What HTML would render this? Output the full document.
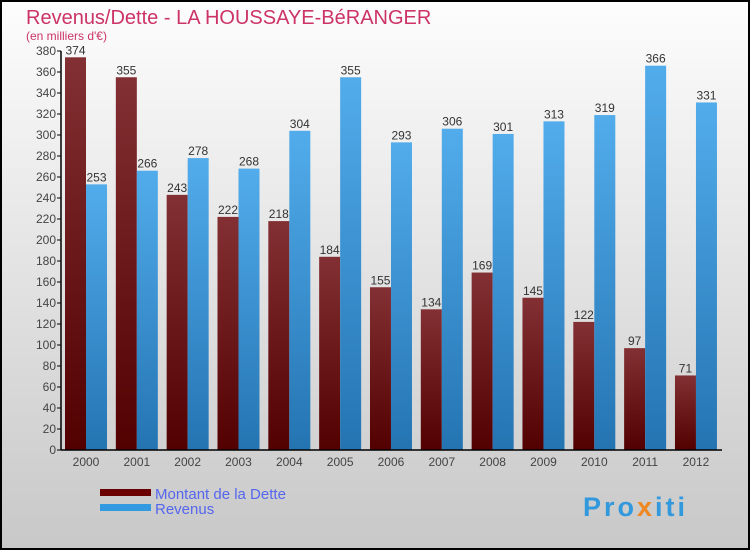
<!DOCTYPE html>
<html><head><meta charset="utf-8"><style>
body{margin:0;width:750px;height:550px;overflow:hidden;font-family:"Liberation Sans",sans-serif}
</style></head><body>
<svg id="c" width="750" height="550" xmlns="http://www.w3.org/2000/svg">
<defs>
<linearGradient id="bg" x1="0" y1="0" x2="0" y2="1"><stop offset="0" stop-color="#fdfdfd"/><stop offset="1" stop-color="#c8c8c8"/></linearGradient>
<linearGradient id="gd" x1="0" y1="0" x2="0" y2="1"><stop offset="0" stop-color="#833034"/><stop offset="1" stop-color="#520000"/></linearGradient>
<linearGradient id="gr" x1="0" y1="0" x2="0" y2="1"><stop offset="0" stop-color="#52aceb"/><stop offset="1" stop-color="#2474b2"/></linearGradient>
</defs>
<rect x="1" y="1" width="748" height="548" fill="url(#bg)" stroke="#000" stroke-width="2"/>
<text x="26" y="24" font-size="20" fill="#cc3366">Revenus/Dette - LA HOUSSAYE-BéRANGER</text>
<text x="26" y="40" font-size="12" fill="#cc3366">(en milliers d'€)</text>
<g id="plot"></g>
<rect x="100" y="489" width="51" height="7" fill="#6b0000"/>
<text x="155" y="499" font-size="15" fill="#5566ee">Montant de la Dette</text>
<rect x="100" y="504" width="51" height="7" fill="#3399e0"/>
<text x="155" y="514" font-size="15" fill="#5566ee">Revenus</text>
<text x="583" y="516" font-size="27" font-weight="bold" letter-spacing="3" fill="#3399dd">Pro<tspan fill="#ee8822">x</tspan>iti</text>
</svg>
<script>
const years=["2000","2001","2002","2003","2004","2005","2006","2007","2008","2009","2010","2011","2012"];
const dette=[374,355,243,222,218,184,155,134,169,145,122,97,71];
const revenus=[253,266,278,268,304,355,293,306,301,313,319,366,331];
const ticks=[0,20,40,60,80,100,120,140,160,180,200,220,240,260,280,300,320,340,360,380];
const NS="http://www.w3.org/2000/svg";
const g=document.getElementById('plot');
const y=v=>450-v*399/380;
const xc=i=>86+i*50.83;
function mk(t,a){const e=document.createElementNS(NS,t);for(const k in a)e.setAttribute(k,a[k]);g.appendChild(e);return e;}
ticks.forEach(t=>{
 const l=mk('line',{x1:57,x2:61,y1:y(t),y2:y(t),stroke:'#000'});
 
 
 const tx=mk('text',{x:56,y:y(t)+4,'font-size':12,'text-anchor':'end',fill:'#444'});tx.textContent=t;
 
 
});
years.forEach((yr,i)=>{
 const c=xc(i);
 const b1=mk('rect',{x:c-21,y:y(dette[i]),width:21,height:450-y(dette[i]),fill:'url(#gd)'});
 
 
 const b2=mk('rect',{x:c,y:y(revenus[i]),width:21,height:450-y(revenus[i]),fill:'url(#gr)'});
 
 
 const t1=mk('text',{x:c-10.5,y:y(dette[i])-3,'font-size':12,'text-anchor':'middle',fill:'#333'});t1.textContent=dette[i];
 
 
 const t2=mk('text',{x:c+10.5,y:y(revenus[i])-3,'font-size':12,'text-anchor':'middle',fill:'#333'});t2.textContent=revenus[i];
 
 
 const xl=mk('text',{x:c,y:466,'font-size':12,'text-anchor':'middle',fill:'#444'});xl.textContent=yr;
 
 
});
const ax=mk('line',{x1:61,x2:61,y1:51,y2:450,stroke:'#000','stroke-width':1.5});


const bx=mk('line',{x1:61,x2:722,y1:450,y2:450,stroke:'#000','stroke-width':1.5});


</script>
</body></html>
